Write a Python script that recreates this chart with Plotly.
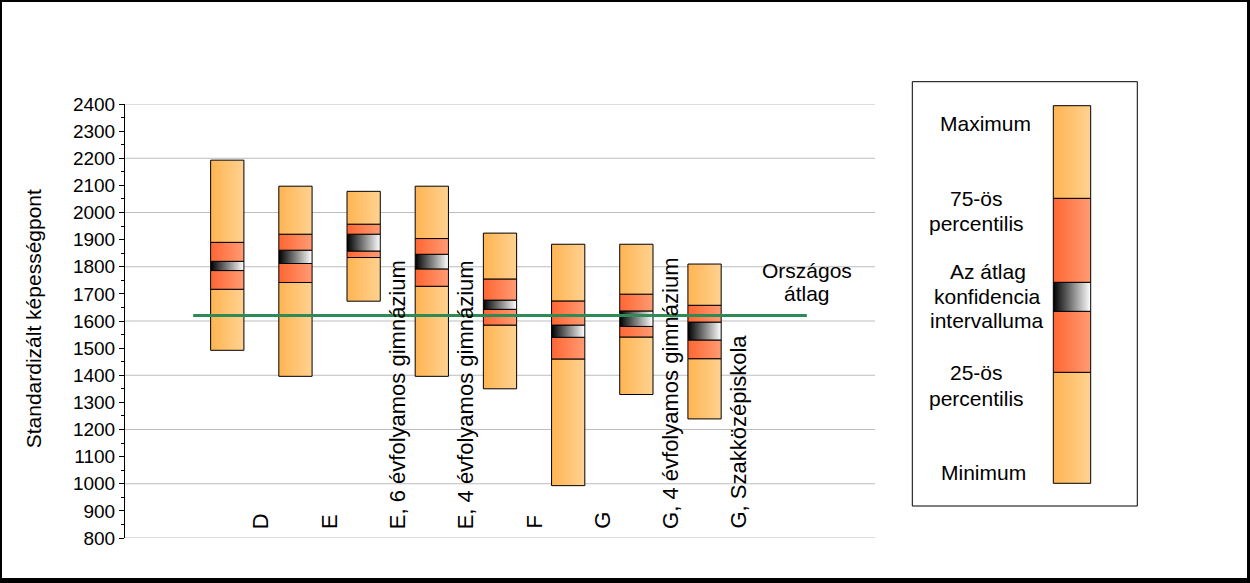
import plotly.graph_objects as go

# ---------------- data ----------------
categories = ["D", "E", "E, 6 évfolyamos gimnázium", "E, 4 évfolyamos gimnázium",
              "F", "G", "G, 4 évfolyamos gimnázium", "G, Szakközépiskola"]
minimum = [1492, 1396, 1673, 1396, 1350, 993, 1329, 1239]
p25 = [1717, 1742, 1834, 1728, 1585, 1460, 1541, 1461]
ci_low = [1786, 1812, 1858, 1792, 1643, 1540, 1580, 1530]
ci_high = [1820, 1861, 1920, 1846, 1677, 1585, 1637, 1596]
p75 = [1890, 1920, 1957, 1904, 1755, 1674, 1699, 1658]
maximum = [2193, 2097, 2078, 2097, 1924, 1883, 1883, 1810]
national_avg = 1620
national_label = ["Országos", "átlag"]
y_title = "Standardizált képességpont"
legend_labels = ["Maximum", "75-ös", "percentilis", "Az átlag", "konfidencia",
                 "intervalluma", "25-ös", "percentilis", "Minimum"]

# ---------------- styles ----------------
W, H = 1250, 583
FONT = "Liberation Sans, Arial, sans-serif"
ORANGE = [[0, "#FFB452"], [1, "#FFD291"]]
RED = [[0, "#FF6633"], [1, "#FF9B73"]]
CI = [[0, "#000000"], [1, "#FFFFFF"]]
seg_styles = [ORANGE, RED, CI, RED, ORANGE]

fig = go.Figure()

half_w = 0.244


def seg_trace(x0, x1, y0, y1, cs, xa="x", ya="y"):
    return go.Scatter(
        x=[x0, x1, x1, x0, x0], y=[y0, y0, y1, y1, y0],
        mode="lines", fill="toself",
        fillgradient=dict(type="horizontal", colorscale=cs),
        line=dict(color="black", width=1),
        xaxis=xa, yaxis=ya, hoverinfo="skip", showlegend=False,
    )


for i, cat in enumerate(categories):
    c = i + 1.5
    bounds = [minimum[i], p25[i], ci_low[i], ci_high[i], p75[i], maximum[i]]
    for k in range(5):
        fig.add_trace(seg_trace(c - half_w, c + half_w, bounds[k], bounds[k + 1], seg_styles[k]))

# national average line
fig.add_trace(go.Scatter(x=[1, 10], y=[national_avg, national_avg], mode="lines",
                         line=dict(color="#2E8B57", width=3), hoverinfo="skip",
                         showlegend=False))

# legend bar (pixel overlay axes)
leg_bounds_px = [483.3, 372.3, 311.3, 282.3, 198.3, 105.7]
for k in range(5):
    fig.add_trace(seg_trace(1053.3, 1090.7, leg_bounds_px[k], leg_bounds_px[k + 1],
                            seg_styles[k], xa="x2", ya="y2"))

annotations = []
# category labels
for i, cat in enumerate(categories):
    annotations.append(dict(x=i + 2.0, y=826, xref="x", yref="y", text=cat,
                            textangle=-90, xanchor="center", yanchor="bottom",
                            showarrow=False, font=dict(family=FONT, size=22, color="black")))
# national label
for txt, yv in zip(national_label, [1787, 1702]):
    annotations.append(dict(x=10.0, y=yv, xref="x", yref="y", text=txt, showarrow=False,
                            xanchor="center", yanchor="middle",
                            font=dict(family=FONT, size=21, color="black")))
# y title
annotations.append(dict(x=33.3 / W, y=1 - 319 / H, xref="paper", yref="paper", text=y_title,
                        textangle=-90, showarrow=False, xanchor="center", yanchor="middle",
                        font=dict(family=FONT, size=21, color="black")))
# legend labels
leg_pos = [(985.8, 123.3), (976.7, 198.3), (976.7, 223.3), (987.5, 271), (987, 296),
           (987.2, 320.7), (976.7, 372.3), (976.7, 398.3), (983, 472.3)]
for txt, (px, py) in zip(legend_labels, leg_pos):
    annotations.append(dict(x=px / W, y=1 - py / H, xref="paper", yref="paper", text=txt,
                            showarrow=False, xanchor="center", yanchor="middle",
                            font=dict(family=FONT, size=21, color="black")))

shapes = []
# gridlines every 200
for v in range(800, 2401, 200):
    shapes.append(dict(type="line", xref="x domain", yref="y", x0=0, x1=1, y0=v, y1=v,
                       line=dict(color="#BDBDBD", width=1), layer="below"))
# legend box
shapes.append(dict(type="rect", xref="paper", yref="paper", x0=912.3 / W, x1=1137.3 / W,
                   y0=1 - 506 / H, y1=1 - 81.7 / H, line=dict(color="black", width=1),
                   fillcolor="rgba(0,0,0,0)", layer="below"))
# outer border
for (x0, y0, x1, y1) in [(0, 0, 2, H), (0, 0, W, 2), (1247, 0, W, H), (0, 578, W, H)]:
    shapes.append(dict(type="rect", xref="paper", yref="paper", x0=x0 / W, x1=x1 / W,
                       y0=1 - y1 / H, y1=1 - y0 / H, fillcolor="black", line=dict(width=0)))

fig.update_layout(
    template="none",
    width=W, height=H,
    margin=dict(l=0, r=0, t=0, b=0, pad=0),
    paper_bgcolor="white", plot_bgcolor="rgba(0,0,0,0)",
    font=dict(family=FONT, size=19, color="black"),
    showlegend=False,
    xaxis=dict(domain=[125 / W, 875 / W], range=[0, 11], showgrid=False, zeroline=False,
               showticklabels=False, ticks="", showline=False, fixedrange=True),
    yaxis=dict(domain=[1 - 538 / H, 1 - 104 / H], range=[800, 2400], dtick=100, tick0=800,
               showgrid=False, zeroline=False, showline=True, linecolor="black", linewidth=1,
               ticks="outside", ticklen=5, tickcolor="black", tickwidth=1,
               tickfont=dict(family=FONT, size=19, color="black"),
               minor=dict(dtick=50, ticks="outside", ticklen=3, tickcolor="black", showgrid=False),
               automargin=False, fixedrange=True),
    xaxis2=dict(domain=[0, 1], range=[0, W], visible=False, anchor="y2", fixedrange=True),
    yaxis2=dict(domain=[0, 1], range=[H, 0], visible=False, anchor="x2", fixedrange=True),
    annotations=annotations,
    shapes=shapes,
)

fig.write_html("out.html", config={"displayModeBar": False},
               post_script="document.body.style.margin='0';document.body.style.overflow='hidden';")
